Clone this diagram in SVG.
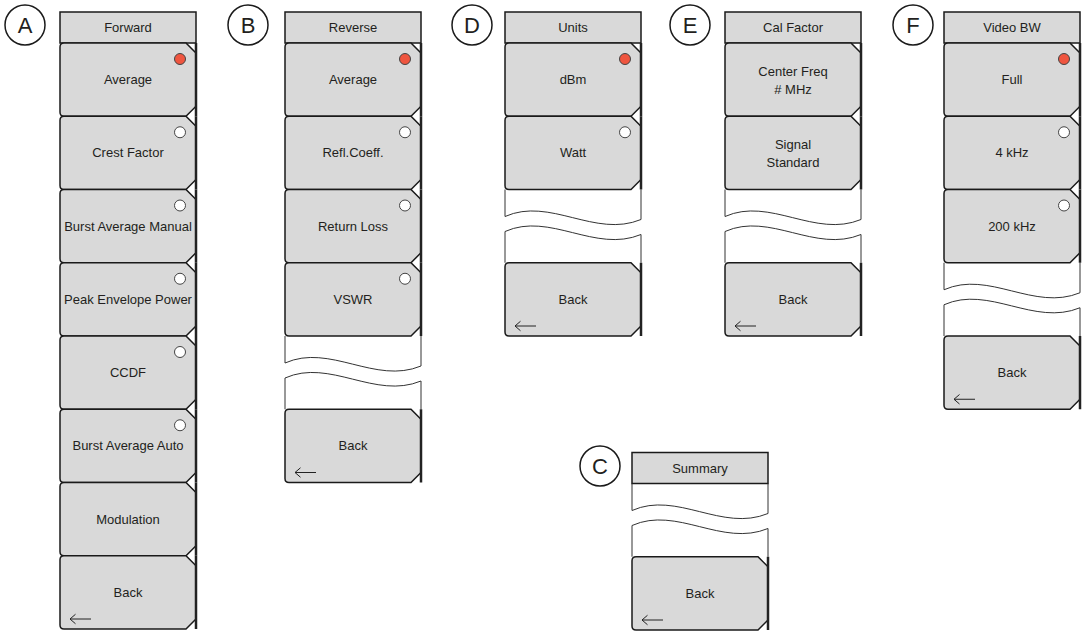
<svg xmlns="http://www.w3.org/2000/svg" xmlns:xlink="http://www.w3.org/1999/xlink" width="1083" height="631" viewBox="0 0 1083 631">
<style>
.btn{fill:#d9d9d9;stroke:#1a1a1a;stroke-width:1.5}
.redge{stroke:#222;stroke-width:2.5}
.hdr{fill:#d9d9d9;stroke:#1a1a1a;stroke-width:1.5}
.gap{fill:none;stroke:#333;stroke-width:1}
.on{fill:#ef553f;stroke:#444;stroke-width:1}
.off{fill:#fff;stroke:#444;stroke-width:1}
.arr{fill:none;stroke:#222;stroke-width:1}
.lbl{fill:none;stroke:#1a1a1a;stroke-width:1.5}
text{font-family:"Liberation Sans",Arial,sans-serif;font-size:13px;fill:#231f20;text-anchor:middle}
.big{font-size:22px}
</style>
<defs>
<g id="btn">
<path class="btn" d="M0,4 Q0,0 4,0 H126 L136,10 V63.25 L126,73.25 H4 Q0,73.25 0,69.25 Z"/>
<line class="redge" x1="136" y1="0" x2="136" y2="73.25"/>
</g>
<path id="gap" class="gap" d="M0,0 V27 C45,7 90,49 136,30 V0 M0,73.25 V42 C45,22 90,64 136,45 V73.25"/>
<path id="arrow" class="arr" d="M10,63.25 H31 M15.5,58.5 L10,63.25 L15.5,68"/>
</defs>

<g id="labels">
<g id="label-A"><circle class="lbl" cx="25" cy="25" r="20"/><text class="big" x="25" y="33">A</text></g>
<g id="label-B"><circle class="lbl" cx="248" cy="25" r="20"/><text class="big" x="248" y="33">B</text></g>
<g id="label-D"><circle class="lbl" cx="472" cy="25" r="20"/><text class="big" x="472" y="33">D</text></g>
<g id="label-E"><circle class="lbl" cx="690" cy="25" r="20"/><text class="big" x="690" y="33">E</text></g>
<g id="label-F"><circle class="lbl" cx="913" cy="25" r="20"/><text class="big" x="913" y="33">F</text></g>
<g id="label-C"><circle class="lbl" cx="600" cy="466" r="20"/><text class="big" x="600" y="474">C</text></g>
</g>

<g id="panel-A" transform="translate(60,0)">
<g id="A-header"><rect class="hdr" x="0" y="12" width="136" height="31"/><text x="68" y="32">Forward</text></g>
<g id="A-average"><use xlink:href="#btn" y="43"/><circle class="on" cx="120" cy="59" r="5.5"/><text x="68" y="84">Average</text></g>
<g id="A-crest"><use xlink:href="#btn" y="116.25"/><circle class="off" cx="120" cy="132.25" r="5.5"/><text x="68" y="157.25">Crest Factor</text></g>
<g id="A-bam"><use xlink:href="#btn" y="189.5"/><circle class="off" cx="120" cy="205.5" r="5.5"/><text x="68" y="230.5">Burst Average Manual</text></g>
<g id="A-pep"><use xlink:href="#btn" y="262.75"/><circle class="off" cx="120" cy="278.75" r="5.5"/><text x="68" y="303.75">Peak Envelope Power</text></g>
<g id="A-ccdf"><use xlink:href="#btn" y="336"/><circle class="off" cx="120" cy="352" r="5.5"/><text x="68" y="377">CCDF</text></g>
<g id="A-baa"><use xlink:href="#btn" y="409.25"/><circle class="off" cx="120" cy="425.25" r="5.5"/><text x="68" y="450.25">Burst Average Auto</text></g>
<g id="A-mod"><use xlink:href="#btn" y="482.5"/><text x="68" y="523.5">Modulation</text></g>
<g id="A-back"><use xlink:href="#btn" y="555.75"/><text x="68" y="596.75">Back</text><use xlink:href="#arrow" y="555.75"/></g>
</g>

<g id="panel-B" transform="translate(285,0)">
<g id="B-header"><rect class="hdr" x="0" y="12" width="136" height="31"/><text x="68" y="32">Reverse</text></g>
<g id="B-average"><use xlink:href="#btn" y="43"/><circle class="on" cx="120" cy="59" r="5.5"/><text x="68" y="84">Average</text></g>
<g id="B-refl"><use xlink:href="#btn" y="116.25"/><circle class="off" cx="120" cy="132.25" r="5.5"/><text x="68" y="157.25">Refl.Coeff.</text></g>
<g id="B-rl"><use xlink:href="#btn" y="189.5"/><circle class="off" cx="120" cy="205.5" r="5.5"/><text x="68" y="230.5">Return Loss</text></g>
<g id="B-vswr"><use xlink:href="#btn" y="262.75"/><circle class="off" cx="120" cy="278.75" r="5.5"/><text x="68" y="303.75">VSWR</text></g>
<use xlink:href="#gap" y="336"/>
<g id="B-back"><use xlink:href="#btn" y="409.25"/><text x="68" y="450.25">Back</text><use xlink:href="#arrow" y="409.25"/></g>
</g>

<g id="panel-D" transform="translate(505,0)">
<g id="D-header"><rect class="hdr" x="0" y="12" width="136" height="31"/><text x="68" y="32">Units</text></g>
<g id="D-dbm"><use xlink:href="#btn" y="43"/><circle class="on" cx="120" cy="59" r="5.5"/><text x="68" y="84">dBm</text></g>
<g id="D-watt"><use xlink:href="#btn" y="116.25"/><circle class="off" cx="120" cy="132.25" r="5.5"/><text x="68" y="157.25">Watt</text></g>
<use xlink:href="#gap" y="189.5"/>
<g id="D-back"><use xlink:href="#btn" y="262.75"/><text x="68" y="303.75">Back</text><use xlink:href="#arrow" y="262.75"/></g>
</g>

<g id="panel-E" transform="translate(725,0)">
<g id="E-header"><rect class="hdr" x="0" y="12" width="136" height="31"/><text x="68" y="32">Cal Factor</text></g>
<g id="E-cf"><use xlink:href="#btn" y="43"/><text x="68" y="76">Center Freq</text><text x="68" y="94"># MHz</text></g>
<g id="E-ss"><use xlink:href="#btn" y="116.25"/><text x="68" y="148.5">Signal</text><text x="68" y="166.5">Standard</text></g>
<use xlink:href="#gap" y="189.5"/>
<g id="E-back"><use xlink:href="#btn" y="262.75"/><text x="68" y="303.75">Back</text><use xlink:href="#arrow" y="262.75"/></g>
</g>

<g id="panel-F" transform="translate(944,0)">
<g id="F-header"><rect class="hdr" x="0" y="12" width="136" height="31"/><text x="68" y="32">Video BW</text></g>
<g id="F-full"><use xlink:href="#btn" y="43"/><circle class="on" cx="120" cy="59" r="5.5"/><text x="68" y="84">Full</text></g>
<g id="F-4k"><use xlink:href="#btn" y="116.25"/><circle class="off" cx="120" cy="132.25" r="5.5"/><text x="68" y="157.25">4 kHz</text></g>
<g id="F-200k"><use xlink:href="#btn" y="189.5"/><circle class="off" cx="120" cy="205.5" r="5.5"/><text x="68" y="230.5">200 kHz</text></g>
<use xlink:href="#gap" y="262.75"/>
<g id="F-back"><use xlink:href="#btn" y="336"/><text x="68" y="377">Back</text><use xlink:href="#arrow" y="336"/></g>
</g>

<g id="panel-C" transform="translate(632,0)">
<g id="C-header"><rect class="hdr" x="0" y="452.5" width="136" height="31"/><text x="68" y="472.5">Summary</text></g>
<use xlink:href="#gap" y="483.5"/>
<g id="C-back"><use xlink:href="#btn" y="556.75"/><text x="68" y="597.75">Back</text><use xlink:href="#arrow" y="556.75"/></g>
</g>

<g id="connectors"/>
</svg>
